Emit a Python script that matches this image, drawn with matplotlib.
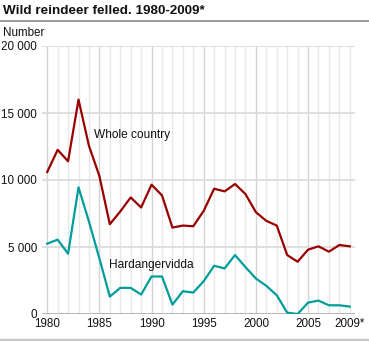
import matplotlib.pyplot as plt
import numpy as np

plt.rcParams['font.family'] = ['Liberation Sans', 'DejaVu Sans']

# Wild reindeer felled, 1980-2009 (2009 preliminary)
years = list(range(1980, 2010))
whole_country = [10600, 12250, 11400, 16000, 12550, 10300, 6700, 7650, 8700, 7950,
                 9650, 8850, 6450, 6600, 6550, 7700, 9350, 9150, 9700, 8950,
                 7600, 6950, 6600, 4400, 3900, 4800, 5050, 4650, 5150, 5050]
hardangervidda = [5250, 5550, 4500, 9450, 6900, 4150, 1300, 1950, 1950, 1450,
                  2800, 2800, 700, 1700, 1600, 2450, 3600, 3400, 4400, 3500,
                  2650, 2100, 1400, 100, 0, 850, 1000, 650, 650, 550]
y_ticks = [0, 5000, 10000, 15000, 20000]
y_tick_labels = ['0', '5 000', '10 000', '15 000', '20 000']
x_ticks = [1980, 1985, 1990, 1995, 2000, 2005, 2009]
x_tick_labels = ['1980', '1985', '1990', '1995', '2000', '2005', '2009*']

fig = plt.figure(figsize=(3.69, 3.41), dpi=100)
ax = fig.add_axes([42/369, 27/341, 313/369, 268/341])

# grid: light line every year, darker every fifth year
for yr in years:
    col = '#d4d4d4' if yr % 5 == 0 else '#e8e8e8'
    ax.axvline(yr, color=col, lw=1, zorder=0)
for v in y_ticks[1:]:
    ax.axhline(v, color='#dcdcdc', lw=1.3, zorder=0)
ax.axhline(0, color='#b0b0b0', lw=1.3, zorder=1)

ax.plot(years, whole_country, color='#990000', lw=1.6, zorder=3)
ax.plot(years, hardangervidda, color='#009e9a', lw=1.6, zorder=3)

ax.text(1984.5, 13350, 'Whole country', fontsize=8.6, color='#111111', va='center')
ax.text(1985.9, 3650, 'Hardangervidda', fontsize=8.6, color='#111111', va='center')

ax.set_xlim(1979.5, 2009.5)
ax.set_ylim(0, 20000)
ax.set_xticks(x_ticks)
ax.set_xticklabels(x_tick_labels, fontsize=8.4, color='#111111')
ax.set_yticks(y_ticks)
ax.set_yticklabels(y_tick_labels, fontsize=8.4, color='#111111')
ax.tick_params(axis='x', length=0, pad=3)
ax.tick_params(axis='y', length=0, pad=3.5)
for s in ax.spines.values():
    s.set_visible(False)

fig.text(3/369, 1 - 11/341, 'Wild reindeer felled. 1980-2009*', fontsize=9.7,
         fontweight='bold', va='center', color='#111111')
fig.add_artist(plt.Line2D([0, 1], [1 - 20.5/341, 1 - 20.5/341], color='#8a8a8a', lw=1.2))
fig.text(3/369, 1 - 33/341, 'Number', fontsize=8.4, va='center', color='#111111')
fig.add_artist(plt.Line2D([0, 1], [1 - 340/341, 1 - 340/341], color='#c8c8c8', lw=2.5))

fig.savefig('out.png', dpi=100)
